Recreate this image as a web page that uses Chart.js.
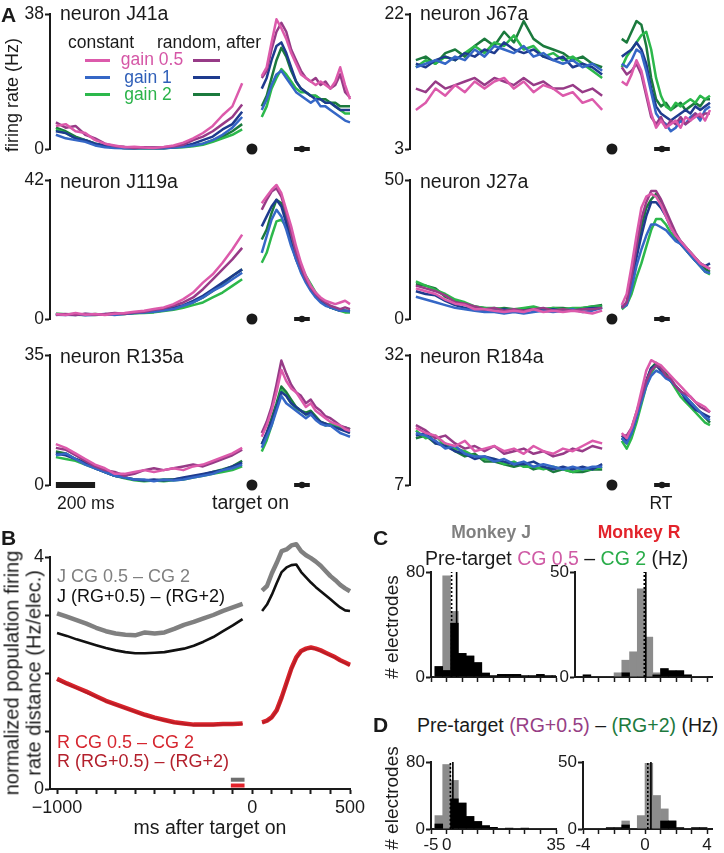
<!DOCTYPE html>
<html>
<head>
<meta charset="utf-8">
<title>gain modulation of firing rates</title>
<script src="https://cdn.jsdelivr.net/npm/chart.js@4.4.1/dist/chart.umd.min.js"></script>
<style>
  html, body { margin: 0; padding: 0; background: #fff; }
  body { position: relative; width: 724px; height: 853px; overflow: hidden;
         font-family: "Liberation Sans", Arial, Helvetica, sans-serif; color: #1a1a1a; }
  .pane { position: absolute; }
  .txt { position: absolute; white-space: nowrap; line-height: 24px; height: 24px; }
  .rot { position: absolute; white-space: nowrap; text-align: center;
         transform: translate(-50%, -50%) rotate(-90deg); }
  .sw { position: absolute; height: 3px; }
</style>
</head>
<body>
<script>
/*----------------------------- data -------------------------------------------------*/
// time bins, ms after target on (pre-target and post-target segments)
const tPre = [-1000,-950,-900,-850,-800,-750,-700,-650,-600,-550,-500,-450,-400,-350,-300,-250,-200,-150,-100,-50];
const tPost = [50,75,100,125,150,175,200,225,250,275,300,325,350,375,400,425,450,475,500];

const condNames = ['constant, gain 0.5', 'random, after gain 0.5', 'constant, gain 1',
                   'random, after gain 1', 'constant, gain 2', 'random, after gain 2'];

const neuronNames = ['J41a', 'J67a', 'J119a', 'J27a', 'R135a', 'R184a'];
const neuronMin = [0, 3, 0, 0, 0, 7];
const neuronMax = [38, 22, 42, 50, 35, 32];

// firing rates (Hz): 20 pre-target values then 19 post-target values
const J41a_cg05 = [6.5,7,5,4.5,2.5,1.5,1,0.5,0.6,0.4,0.3,0.6,1,1.8,3,4.5,6.5,9.5,12,18.5,
                   20.5,23,30,36.5,34,31,27,24,21,20,19,18,19,18,17,19,23,18,14];
const J41a_rg05 = [7.5,6,6.5,4,3,1.5,0.8,0.6,0.3,0.5,0.4,0.5,0.8,1.2,2.5,3.5,5,7,9,12.5,
                   20,22,28,33,35.5,33,28,25,22,20,19,20,18,19,17,18,21,16,14.5];
const J41a_cg1 = [4,3,2.5,2,1,0.5,0.3,0.2,0.3,0.2,0.3,0.2,0.4,0.6,1,1.5,2.5,4,6,9,
                  11,14,18,21,22,20,18,16,15,14,13,14,12,12,11,10,9,8,7.5];
const J41a_rg1 = [5,4.5,3,2.5,1.5,1,0.5,0.3,0.2,0.4,0.3,0.3,0.5,0.8,1.5,2.5,3.5,5.5,7,10.5,
                  17,20,25,29,30,27,23,19,17,16,15,14,14,13,13,12,11,11,11];
const J41a_cg2 = [5.5,4.5,3,2.5,1.5,0.8,0.4,0.3,0.2,0.3,0.2,0.3,0.4,0.5,0.8,1.2,2,3,4,5.5,
                  9,12,17,20,22.5,21,19,17,16,16,15,15,14,13,13,12,11,10,10];
const J41a_rg2 = [6,5,3.5,2.5,1.5,1,0.5,0.3,0.3,0.2,0.3,0.2,0.4,0.6,1,1.5,2.5,3.5,5,7,
                  12,15,20,25,28.5,26,22,19,17,16,15,15,14,14,13,13,12,12,12];

const J67a_cg05 = [8.5,9.5,11.5,10.5,12,11,12.5,11.5,12.5,13,11.5,12.5,11,12,11.5,10.5,11,9.5,10,8.5,
                   12.5,12,13.5,15.5,14,11,8,6,7,6,6.5,7,6,7.5,7,7.5,8,7,8.5];
const J67a_rg05 = [11.5,11,12.5,11.5,12,12.5,13,12,13,12.5,12,13,12,12.5,11.5,11.5,12,11,11.5,10.5,
                   14.5,13.5,14,15,13.5,10.5,7.5,6.5,7.5,6,7,6.5,7.5,6.5,7,8,7.5,8,8];
const J67a_cg1 = [14.5,15,15.5,15,16,15.5,17,16,17.5,17,16.5,17.5,16,16.5,15.5,15,15.5,14.5,15,14,
                  15,14.5,15.5,17,16.5,14,11,8,7,6.5,5.5,6,7,6.5,7.5,8,7,8.5,9];
const J67a_rg1 = [15,14.5,15.5,16,15.5,16.5,16,17,16.5,18,17,16.5,17,16,15.5,16,14.5,15,14.5,13.5,
                  16,16.5,17,18,17,15,11.5,9,8,7.5,7,7.5,8,8.5,8,9,8.5,9,9.5];
const J67a_cg2 = [14.5,15.5,15,16,15.5,16.5,17.5,16.5,18,17.5,19,17,17.5,16,16.5,15.5,16,15,14,13,
                  14.5,16,17,18,19,19.5,17,13,10.5,9,8.5,9.5,9,9.5,10,9.5,10.5,10,10.5];
const J67a_rg2 = [15.5,16,15,16.5,17,16,17.5,18.5,17.5,19.5,18,21,18.5,17.5,17,16.5,15.5,16,15,14.5,
                  18.5,18,19.5,21,20.5,17.5,13,10,9,9.5,8.5,9,9.5,8.5,9,9.5,9,10,10];

const J119a_cg05 = [1.5,1.2,1.8,1.3,1.5,1.2,1.6,1.8,2.2,2.5,3,3.5,4.5,6,8,11,13.5,17,21,25.5,
                    35,37,39,40.5,38,33,28,22,17,13,10,8,6.5,5.5,5,4.5,5,5.5,4.5];
const J119a_rg05 = [1.2,1.5,1.2,1.6,1.3,1.5,1.8,1.6,2,2.2,2.8,3.2,4,5,6.5,9,12,15,18,21.5,
                    33,36,38.5,39.5,37,32,26,20,15.5,12,9.5,7.5,6,5,4,3.5,3,3.5,3];
const J119a_cg1 = [1.3,1.2,1.5,1.1,1.3,1.5,1.2,1.6,1.8,2,2.2,2.6,3,4,5,6.5,8.5,10,12,14,
                   20,25,30,33,31,27,22,18,14,11,8.5,6.5,5,4,3.5,3,2.5,2.5,2.3];
const J119a_rg1 = [1.4,1.3,1.2,1.5,1.4,1.3,1.6,1.5,1.9,2.1,2.4,2.8,3.4,4.2,5.5,7,9,11,13,15,
                   28,31,34,36,34,29,23,18,14.5,11.5,9,7,5.5,4.5,3.5,3,2.5,2.5,2.5];
const J119a_cg2 = [1.6,1.4,1.3,1.2,1.5,1.3,1.4,1.5,1.7,1.8,2,2.4,2.8,3.4,4.2,5,6.5,8,10,12,
                   17,20,25,29.5,30,28,24,20,16,13,10.5,8,6,4.5,3.5,3,2.5,2,2];
const J119a_rg2 = [1.5,1.4,1.5,1.3,1.2,1.4,1.5,1.7,1.8,2,2.3,2.6,3.2,4,5,6.5,8.5,10.5,13,15,
                   24,27,32,36,35,31,25,20,15.5,12,9.5,7.5,5.5,4.5,3.5,3,2.7,2.5,2.2];

const J27a_cg05 = [11,10,9,7,5.5,5,3.5,3.5,3,2.5,3,2.5,3.5,2.5,3,2.5,3,2.5,2,3,
                   5,9,19,30,40,44,45,44,41,37,33,30,28,26,24,22,20,19,18];
const J27a_rg05 = [12,11,10,8.5,6,5.5,4.5,3.5,4,3,3.5,3,3.5,4,3,3.5,3,3.5,3.5,4,
                   4,6,15,26,36,42,46,46,43,39,35,31,28,26,24,22,20,19,18];
const J27a_cg1 = [8,7,6,5,4,3.5,3,2.5,2.5,2,2.5,2,2.5,3,2.5,3,3.5,2.5,3,4,
                  4,5,11,19,25,30,34,34,33,32,30,28,27,25,23,21,19,17,16.5];
const J27a_rg1 = [10,9,8.5,6.5,5,4,3.5,3,3,3.5,3,3,3.5,3,3.5,3,3,3.5,4,4,
                  4.5,5.5,13,22,30,37,42,42,40,37,33,30,27,25,23,21,20,19,20];
const J27a_cg2 = [13.5,12,10.5,9,7,6,4.5,4,4,3.5,3.5,4,4.5,3.5,4,3.5,4,4,4.5,4.5,
                  3.5,5,9,15,20,26,32,36,36,34,31,29,27,25,23,21,19,17,16];
const J27a_rg2 = [12.5,12,11,8,6.5,5,4.5,4,3.5,4,3.5,3.5,4,3.5,4,4,3.5,4,4.5,5,
                  4,6,14,24,33,40,43,45,42,38,34,30,28,26,24,22,20,18,17];

const R135a_cg05 = [11,10,8.5,7,5.5,4.5,3,3,3.5,4,3.5,4,4.5,4,5,5.5,6.5,7.5,8.5,10,
                    13,16,20,25,31,28,26,25,23,21,22,20,19,18,17,16.5,16,15,14.5];
const R135a_rg05 = [10,9.5,8,6.5,5,4,3.5,2.5,3,4,4.5,4,4.5,5,5.5,5,6,7,8,9.5,
                    14,17,21,27,33.5,30,27,25,24,22,23,21,20,18.5,18,17,16,15.5,15];
const R135a_cg1 = [8,8.5,7,5.5,4.5,3.5,2.5,2,1.5,1.5,1,1.5,1.2,1.5,2,2.5,3,4,4.5,5.5,
                   10,13,16,20,24,22,21,20,19,18,19,17.5,16.5,16,16,15,14,13.5,13];
const R135a_rg1 = [8.5,8,7,6,4.5,3.5,2.5,2,1.5,1.2,1.5,1.2,1.5,2,2.5,3,3.5,4,5,6,
                   11,14,17,21,25,24,22,21,20,19,19.5,18,17,16.5,16,15.5,15,14.5,14];
const R135a_cg2 = [7.5,7,6.5,5.5,4.5,3.5,2.5,1.8,1.3,1,1.2,1,1.3,1.5,2,2.5,3,3.5,4,5,
                   9,12,16,21,25.5,24,22,20.5,20,19,19,18,17,16,16.5,16,15.5,15,15];
const R135a_rg2 = [9,8.5,7,6,5,3.5,2.5,2,1.5,1.3,1.2,1.5,1.5,1.8,2.2,2.8,3.5,4.2,5,6.5,
                   11,14,18,22,26.5,25,23,21,20,19.5,20,18.5,17,16.5,16,16,15.5,15.5,15];

const R184a_cg05 = [18,17,16.5,15,14.5,15.5,13.5,14,14.5,13.5,14,13,14.5,13.5,13,14,13.5,14.5,15.5,15,
                    17,16,18,21,25,29,31,30.5,30,29,28,27,26,25,24,23,22.5,22,21];
const R184a_rg05 = [18.5,17.5,16,16.5,15,14,14.5,13.5,14.5,13,13.5,14,13,13.5,12.5,13,14,13.5,14.5,14,
                    16.5,16.5,18,21,24,27,29,30,29.5,28,27.5,26,25,24.5,24,23,22,21.5,21];
const R184a_cg1 = [17,16.5,15.5,14,14.5,13,12.5,12.5,11.5,12,11,11.5,10.5,11,10.5,10,10.5,10,10.5,10.5,
                   16,15,17,20,23,26,28,29,28.5,27.5,27,26,25,24,23,22,21,20,19.5];
const R184a_rg1 = [16.5,17,15,14.5,13.5,13,12,12.5,12,11.5,11,11,11.5,10.5,10,10.5,10,10.5,10,11,
                   16.5,15.5,17,20,23.5,27,29.5,30,29,28,27,26,25,23.5,22.5,21.5,21,20.5,20];
const R184a_cg2 = [17.5,16,16.5,14.5,14,13.5,12.5,12,12,11,11.5,10.5,10.5,10,10.5,10,9.5,10,10,10.5,
                   15.5,14,16,19,22.5,26,28.5,30,29.5,28,27,25.5,24,23,22,21,20,19,18.5];
const R184a_rg2 = [16,16.5,15,15,13.5,12.5,13,11.5,11.5,11,10.5,11,10,10.5,9.5,10,9.5,9.5,10,10,
                   16,15,17,20,23,27,29.5,30.5,29.5,28.5,27,26,25,24,23,22,21,20,19];

const targetOn = 0;           // ms
const rtRange = [215, 295];   // ms, reaction-time spread
const rtMedian = 255;
const scaleBar = [-1000, -800];

// B: population firing-rate distance (Hz/elec.), same time bins
const popJ_CG = [3.03,2.97,2.91,2.85,2.78,2.72,2.68,2.66,2.65,2.7,2.68,2.7,2.76,2.83,2.88,2.94,3.0,3.07,3.13,3.19,
                 3.42,3.5,3.72,3.9,4.1,4.13,4.2,4.22,4.1,4.03,3.98,3.92,3.85,3.76,3.67,3.6,3.52,3.46,3.41];
const popJ_RG = [2.69,2.64,2.58,2.53,2.48,2.43,2.39,2.36,2.34,2.34,2.35,2.36,2.39,2.42,2.47,2.54,2.62,2.72,2.82,2.93,
                 3.07,3.18,3.35,3.55,3.74,3.82,3.86,3.87,3.74,3.65,3.56,3.48,3.41,3.34,3.27,3.2,3.13,3.08,3.07];
const popR_CG = [1.9,1.82,1.75,1.68,1.6,1.52,1.46,1.4,1.34,1.28,1.23,1.19,1.15,1.13,1.11,1.11,1.11,1.12,1.12,1.13,
                 1.15,1.18,1.24,1.36,1.58,1.83,2.08,2.27,2.38,2.42,2.44,2.42,2.39,2.35,2.31,2.27,2.22,2.18,2.14];
const popR_RG = [1.88,1.81,1.74,1.66,1.59,1.51,1.45,1.39,1.33,1.27,1.22,1.18,1.14,1.12,1.1,1.1,1.1,1.11,1.12,1.12,
                 1.14,1.17,1.23,1.35,1.56,1.81,2.06,2.25,2.37,2.41,2.43,2.41,2.38,2.34,2.3,2.26,2.21,2.17,2.13];
const winJ = [-110, -40];
const winR = [-110, -40];

// C, D: histograms of pre-target differences (# electrodes per bin)
const binsJ = [-2.5,0,2.5,5,7.5,10,12.5,15,17.5,20,22.5,25,27.5,30,32.5,35];
const binsR = [-3.75,-3.25,-2.75,-2.25,-1.75,-1.25,-0.75,-0.25,0.25,0.75,1.25,1.75,2.25,2.75,3.25,3.75];
const cgJ_all = [8,77,50,18,16,11,3,1,2,2,2,1,1,2,1,1];
const cgJ_sig = [8,5,41,18,16,11,3,1,2,2,2,1,1,2,1,1];
const cgR_all = [1,0,0,0,2,8,12,42,19,2,4,3,3,1,0,0];
const cgR_sig = [1,0,0,0,0,2,0,0,0,1,4,3,3,1,0,0];
const rgJ_all = [16,77,58,31,15,9,4,2,0,1,0,1,0,0,0,0];
const rgJ_sig = [6,0,36,31,15,9,4,2,0,1,0,1,0,0,0,0];
const rgR_all = [0,0,0,1,1,6,0,10,49,25,15,6,1,0,1,1];
const rgR_sig = [0,0,0,1,1,3,0,0,0,0,6,6,1,0,1,1];
// [dotted, solid] marker positions
const cgJ_marks = [1.6, 3.2];
const cgR_marks = [-0.05, 0.05];
const rgJ_marks = [1.2, 2.0];
const rgR_marks = [0.18, 0.38];

/*----------------------------- styles ----------------------------------------------*/
const INK = '#1a1a1a';
const condColors = ['#dc5aab', '#973b87', '#3567c6', '#1e3b8e', '#2cb84b', '#1b7a3d'];
Chart.defaults.font.family = '"Liberation Sans", Arial, Helvetica, sans-serif';
Chart.defaults.color = INK;

/*----------------------------- helpers ---------------------------------------------*/
function toXY(vals) {
    const pts = tPre.map((t, i) => ({ x: t, y: vals[i] }));
    pts.push({ x: 0, y: null });
    tPost.forEach((t, i) => pts.push({ x: t, y: vals[tPre.length + i] }));
    return pts;
}

function pane(x0, y0, x1, y1, m) {
    const d = document.createElement('div');
    d.className = 'pane';
    const w = x1 - x0 + m.l + m.r, h = y1 - y0 + m.t + m.b;
    d.style.left = (x0 - m.l) + 'px';
    d.style.top = (y0 - m.t) + 'px';
    d.style.width = w + 'px';
    d.style.height = h + 'px';
    const c = document.createElement('canvas');
    c.width = w;
    c.height = h;
    d.appendChild(c);
    document.body.appendChild(d);
    return c;
}

function txt(html, x, y, size, opts) {
    opts = opts || {};
    const d = document.createElement('div');
    d.className = 'txt';
    d.innerHTML = html;
    d.style.fontSize = size + 'px';
    d.style.top = (y - 12) + 'px';
    d.style.left = x + 'px';
    if (opts.center) d.style.transform = 'translateX(-50%)';
    if (opts.bold) d.style.fontWeight = 'bold';
    if (opts.color) d.style.color = opts.color;
    document.body.appendChild(d);
}

function vtxt(html, x, y, size, lh) {
    const d = document.createElement('div');
    d.className = 'rot';
    d.innerHTML = html;
    d.style.fontSize = size + 'px';
    d.style.lineHeight = (lh || size * 1.15) + 'px';
    d.style.left = x + 'px';
    d.style.top = y + 'px';
    document.body.appendChild(d);
}

function swatch(x, y, w, color) {
    const d = document.createElement('div');
    d.className = 'sw';
    d.style.left = x + 'px';
    d.style.top = (y - 1.5) + 'px';
    d.style.width = w + 'px';
    d.style.background = color;
    document.body.appendChild(d);
}

function yAxis(min, max, ticks, shown, w, size) {
    return {
        min: min, max: max,
        afterBuildTicks: s => { s.ticks = ticks.map(v => ({ value: v })); },
        afterFit: s => { s.width = w; },
        grid: { drawOnChartArea: false, tickLength: 5, tickWidth: 2, tickColor: INK },
        border: { color: INK, width: 2 },
        ticks: { autoSkip: false, padding: 1, color: INK, font: { size: size },
                 callback: v => shown.includes(v) ? String(v) : '' }
    };
}

const baseOpts = {
    responsive: false,
    animation: false,
    events: [],
    plugins: { legend: { display: false }, tooltip: { enabled: false } }
};

/*----------------------------- A: single neurons -----------------------------------*/
const neuronTraces = [
    [J41a_cg05, J41a_rg05, J41a_cg1, J41a_rg1, J41a_cg2, J41a_rg2],
    [J67a_cg05, J67a_rg05, J67a_cg1, J67a_rg1, J67a_cg2, J67a_rg2],
    [J119a_cg05, J119a_rg05, J119a_cg1, J119a_rg1, J119a_cg2, J119a_rg2],
    [J27a_cg05, J27a_rg05, J27a_cg1, J27a_rg1, J27a_cg2, J27a_rg2],
    [R135a_cg05, R135a_rg05, R135a_cg1, R135a_rg1, R135a_cg2, R135a_rg2],
    [R184a_cg05, R184a_rg05, R184a_cg1, R184a_rg1, R184a_cg2, R184a_rg2]
];
const colX = [[50, 350], [410, 710]];
const rowY = [[14, 149], [180, 319], [355, 485]];

function neuronChart(k) {
    const [x0, x1] = colX[k % 2];
    const [y0, y1] = rowY[Math.floor(k / 2)];
    const lo = neuronMin[k], hi = neuronMax[k];
    const m = { l: 42, t: 14, r: 8, b: 16 };
    const canvas = pane(x0, y0, x1, y1, m);
    const ds = neuronTraces[k].map((vals, i) => ({
        label: condNames[i], data: toXY(vals), borderColor: condColors[i], borderWidth: 2.5,
        pointRadius: 0, tension: 0, clip: false, borderJoinStyle: 'round'
    }));
    ds.push({ label: 'target on', data: [{ x: targetOn, y: lo }], showLine: false, pointRadius: 5.5,
              pointBackgroundColor: INK, pointBorderWidth: 0, clip: false });
    ds.push({ label: 'RT', data: rtRange.map(t => ({ x: t, y: lo })), borderColor: INK, borderWidth: 4,
              pointRadius: 0, clip: false });
    ds.push({ label: 'median RT', data: [{ x: rtMedian, y: lo }], showLine: false, pointRadius: 3.2,
              pointBackgroundColor: INK, pointBorderWidth: 0, clip: false });
    if (k === 4) {
        ds.push({ label: '200 ms', data: scaleBar.map(t => ({ x: t, y: lo })), borderColor: INK,
                  borderWidth: 6, pointRadius: 0, clip: false });
    }
    new Chart(canvas, {
        type: 'line',
        data: { datasets: ds },
        options: Object.assign({}, baseOpts, {
            layout: { padding: { left: 0, top: m.t, right: m.r, bottom: m.b } },
            scales: {
                x: { type: 'linear', min: -1030, max: 500, display: false },
                y: yAxis(lo, hi, [lo, hi], [lo, hi], m.l, 17.5)
            }
        })
    });
}
for (let k = 0; k < 6; k++) neuronChart(k);

/*----------------------------- B: population ---------------------------------------*/
(function () {
    const m = { l: 42, t: 16, r: 26, b: 34 };
    const canvas = pane(50, 557, 350, 789, m);
    const line = (label, vals, color, w) => ({ label: label, data: toXY(vals), borderColor: color,
        borderWidth: w, pointRadius: 0, tension: 0, clip: false, borderJoinStyle: 'round' });
    const ds = [
        line('R (RG+0.5) – (RG+2)', popR_RG, '#b81c26', 2),
        line('R CG 0.5 – CG 2', popR_CG, '#d9242b', 4.5),
        line('J (RG+0.5) – (RG+2)', popJ_RG, '#111111', 2.6),
        line('J CG 0.5 – CG 2', popJ_CG, '#808080', 4.5),
        { label: 'J window', data: winJ.map(t => ({ x: t, y: 0.16 })), borderColor: '#6e6e6e',
          borderWidth: 4, pointRadius: 0, clip: false },
        { label: 'R window', data: winR.map(t => ({ x: t, y: 0.06 })), borderColor: '#e3232b',
          borderWidth: 4, pointRadius: 0, clip: false }
    ];
    const xt = [];
    for (let v = -1000; v <= 500; v += 100) xt.push(v);
    new Chart(canvas, {
        type: 'line',
        data: { datasets: ds },
        options: Object.assign({}, baseOpts, {
            layout: { padding: { left: 0, top: m.t, right: m.r, bottom: 0 } },
            scales: {
                x: {
                    type: 'linear', min: -1036, max: 500,
                    afterBuildTicks: s => { s.ticks = xt.map(v => ({ value: v })); },
                    afterFit: s => { s.height = m.b; },
                    grid: { drawOnChartArea: false, tickLength: 5, tickWidth: 2, tickColor: INK },
                    border: { color: INK, width: 2 },
                    ticks: { autoSkip: false, maxRotation: 0, padding: 3, color: INK, font: { size: 18 },
                             callback: v => v === -1000 ? '\u22121000' : ((v === 0 || v === 500) ? String(v) : '') }
                },
                y: yAxis(0, 4, [0, 1, 2, 3, 4], [0, 4], m.l, 18)
            }
        })
    });
})();

/*----------------------------- C, D: histograms ------------------------------------*/
function histChart(box, xmin, xmax, xticks, xlabels, ymax, bins, all, sig, marks) {
    const m = { l: 40, t: 12, r: 14, b: 26 };
    const canvas = pane(box[0], box[1], box[2], box[3], m);
    const bar = (label, vals, color) => ({
        type: 'bar', label: label, data: bins.map((b, i) => ({ x: b, y: vals[i] })),
        backgroundColor: color, borderWidth: 0, grouped: false, barPercentage: 1, categoryPercentage: 1
    });
    const mark = (label, x, dash) => ({
        type: 'line', label: label, data: [{ x: x, y: 0 }, { x: x, y: ymax }], borderColor: '#000',
        borderWidth: 1.6, borderDash: dash, pointRadius: 0, order: -1, clip: false
    });
    new Chart(canvas, {
        type: 'bar',
        data: { datasets: [
            bar('significant', sig, '#000000'),
            bar('all electrodes', all, '#8c8c8c'),
            mark('median', marks[0], [2, 2]),
            mark('mean', marks[1], [])
        ] },
        options: Object.assign({}, baseOpts, {
            layout: { padding: { left: 0, top: m.t, right: m.r, bottom: 0 } },
            scales: {
                x: {
                    type: 'linear', min: xmin, max: xmax, offset: false,
                    afterBuildTicks: s => { s.ticks = xticks.map(v => ({ value: v })); },
                    afterFit: s => { s.height = m.b; },
                    grid: { offset: false, drawOnChartArea: false, tickLength: 5, tickWidth: 1.5, tickColor: INK },
                    border: { color: INK, width: 2 },
                    ticks: { display: xlabels.length > 0, autoSkip: false, maxRotation: 0, padding: 1,
                             color: INK, font: { size: 17 },
                             callback: v => xlabels.includes(v) ? String(v) : '' }
                },
                y: yAxis(0, ymax, [0, ymax], [0, ymax], m.l, 17)
            }
        })
    });
}
const ticksJ = [-5, 0, 5, 10, 15, 20, 25, 30, 35];
const ticksR = [-4, -3, -2, -1, 0, 1, 2, 3, 4];
histChart([431, 572, 556, 677], -5, 35, ticksJ, [], 80, binsJ, cgJ_all, cgJ_sig, cgJ_marks);
histChart([575, 572, 712, 677], -4.52, 4.32, ticksR, [], 50, binsR, cgR_all, cgR_sig, cgR_marks);
histChart([431, 762, 556, 829], -5, 35, ticksJ, [-5, 0, 35], 80, binsJ, rgJ_all, rgJ_sig, rgJ_marks);
histChart([583, 762, 712, 829], -4, 4.32, ticksR, [-4, 0, 4], 50, binsR, rgR_all, rgR_sig, rgR_marks);

/*----------------------------- text ------------------------------------------------*/
txt('A', 1, 15, 21, { bold: true });
vtxt('firing rate (Hz)', 12, 95, 18);
const titlePos = [[60, 13], [420, 13], [60, 181], [420, 181], [60, 356], [420, 356]];
neuronNames.forEach((n, i) => txt('neuron ' + n, titlePos[i][0], titlePos[i][1], 19.5));

txt('constant', 68, 42, 17.5);
txt('random, after', 157, 42, 17.5);
txt('gain 0.5', 152, 59, 17.5, { center: true, color: '#d556a6' });
txt('gain 1', 148, 77, 17.5, { center: true, color: '#2f5fb8' });
txt('gain 2', 148, 94, 17.5, { center: true, color: '#2bb34a' });
[60, 77, 94].forEach((y, i) => {
    swatch(85, y, 25, condColors[2 * i]);
    swatch(193, y, 27, condColors[2 * i + 1]);
});
txt('200 ms', 57, 503, 17.5);
txt('target on', 212, 502, 19.5);
txt('RT', 661, 503, 17.5, { center: true });

txt('B', 1, 538, 21, { bold: true });
vtxt('normalized population firing<br>rate distance (Hz/elec.)', 23, 673, 20, 21.5);
txt('J CG 0.5 \u2013 CG 2', 57, 576, 18, { color: '#808080' });
txt('J (RG+0.5) \u2013 (RG+2)', 57, 596, 18, { color: '#111' });
txt('R CG 0.5 \u2013 CG 2', 57, 742, 18, { color: '#d6262f' });
txt('R (RG+0.5) \u2013 (RG+2)', 57, 761, 18, { color: '#b3202c' });
txt('ms after target on', 210, 827, 19.5, { center: true });

txt('C', 373, 538, 21, { bold: true });
txt('Monkey J', 491, 532, 17.5, { bold: true, center: true, color: '#808080' });
txt('Monkey R', 639, 532, 17.5, { bold: true, center: true, color: '#e3232b' });
txt('Pre-target <span style="color:#cf5ba5">CG 0.5</span> \u2013 <span style="color:#2aad4a">CG 2</span> (Hz)', 425, 558, 19.5);
vtxt('# electrodes', 392, 627, 19);

txt('D', 373, 725, 21, { bold: true });
txt('Pre-target <span style="color:#973f85">(RG+0.5)</span> \u2013 <span style="color:#1d7a3e">(RG+2)</span> (Hz)', 417, 725, 19.5);
vtxt('# electrodes', 392, 798, 19);
</script>
</body>
</html>
